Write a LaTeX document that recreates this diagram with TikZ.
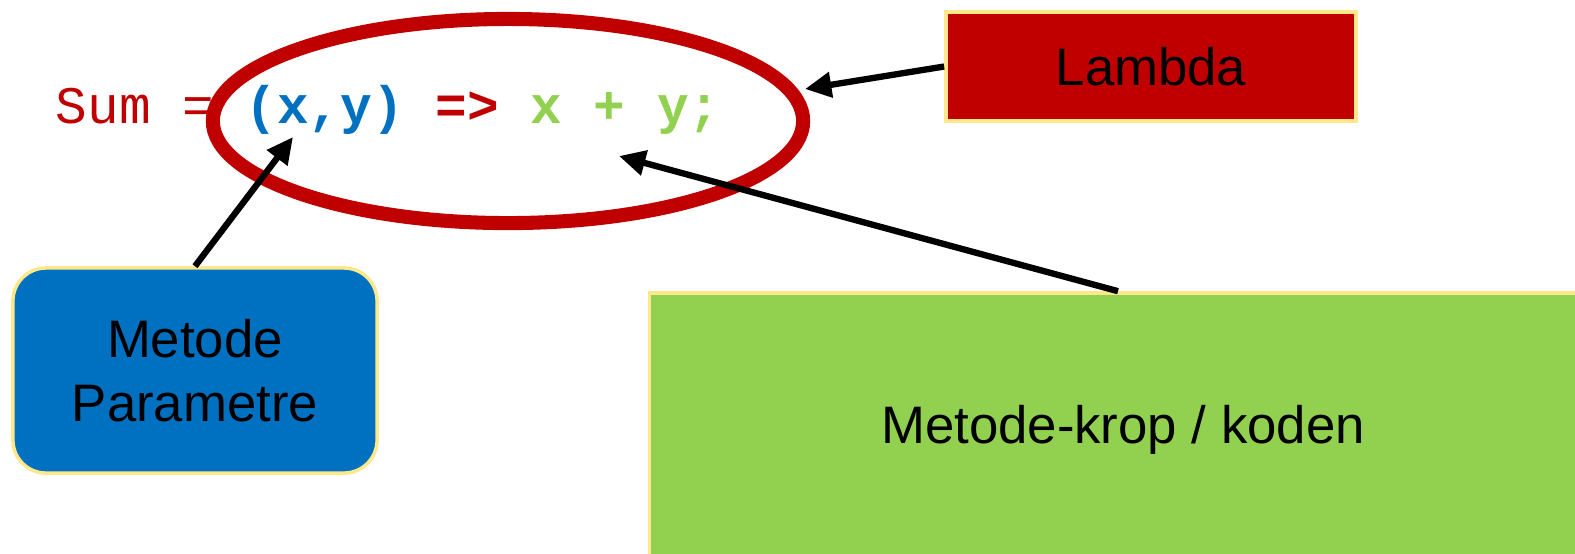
\documentclass[tikz,border=0pt]{standalone}
\usepackage{fontspec}
\setmainfont{Liberation Sans}
\newfontfamily\codefont{Liberation Mono}
\usetikzlibrary{positioning,arrows.meta}

\definecolor{lamred}{HTML}{C00000}
\definecolor{parblue}{HTML}{0070C0}
\definecolor{bodygreen}{HTML}{92D050}
\definecolor{boxrim}{HTML}{FFE88A}

\tikzset{
	box/.style={draw=boxrim, line width=1pt, align=center, inner sep=0pt, font=\fontsize{15}{18}\selectfont},
	pointer/.style={line width=1.8pt, -{Triangle[length=7.5pt,width=7pt]}}
}

\begin{document}
\begin{tikzpicture}[x=0.01cm,y=-0.01cm]
			\useasboundingbox (0,0) rectangle (1575,553);
			\clip (0,0) rectangle (1575,553);
			\begin{scope}
				\coordinate (O) at (508,121);
				\coordinate (tipLam) at (805,89); 
				\coordinate (tipPar) at (293,137); 
				\coordinate (tipBody) at (619,156); 
				
				\node[anchor=base west, inner sep=0pt, font=\codefont\fontsize{15}{18}\selectfont] (code) at (55,123)
					{\textcolor{lamred}{Sum =} \textcolor{parblue}{\bfseries(x,y)} \textcolor{lamred}{\bfseries=>} \textcolor{bodygreen}{\bfseries x + y;}};
				\draw[lamred, line width=4pt] (O) ellipse [x radius=2.95cm, y radius=1.02cm];
				%\draw[step=100,gray,very thin] (0,0) grid (1575,553);
				
				\node[box, fill=lamred, minimum width=4.1cm, minimum height=1.09cm] (lambda) at (1151,66.5) {Lambda}; 
				\node[box, fill=parblue, rounded corners=0.33cm, minimum width=3.64cm, minimum height=2.05cm] (param) at (195,370.5) {Metode\\Parametre}; 
				\node[box, fill=bodygreen, minimum width=9.46cm, minimum height=2.74cm] (body) at (1123,430) {Metode-krop / koden}; 
				
				\draw[pointer] (lambda.west) -- (tipLam);
				\draw[pointer] (param.north) -- (tipPar);
				\draw[pointer] ([xshift=-0.05cm]body.north) -- (tipBody);
			\end{scope}
		\end{tikzpicture}
\end{document}
